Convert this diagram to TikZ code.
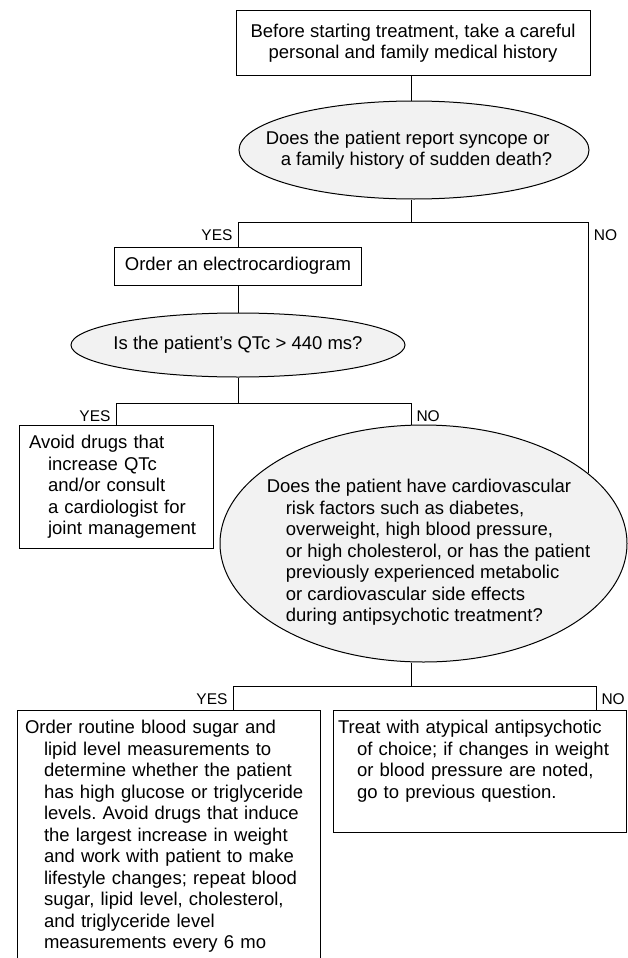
\documentclass[tikz,border=0pt]{standalone}
\usepackage{fontspec}
\setmainfont{Liberation Sans}
\usetikzlibrary{shapes.geometric}
\definecolor{qfill}{RGB}{242,242,242}
\newcommand{\ind}{\hspace*{19pt}}
\newcommand{\tail}[1]{\rule[-#1]{0pt}{#1}}
\frenchspacing
\begin{document}
\begin{tikzpicture}[x=1pt, y=1pt, line width=1pt,
  font=\fontsize{18.5}{21.5}\selectfont,
  action/.style={rectangle, draw, fill=white, inner sep=10pt},
  question/.style={ellipse, draw, fill=qfill, inner sep=0pt},
  qtext/.style={align=left, inner sep=0pt},
  answer/.style={font=\fontsize{15.5}{18}\selectfont, inner xsep=5pt, inner ysep=7pt}]
\useasboundingbox (0,0) rectangle (628,-958);

\node[action, minimum width=354, minimum height=64, align=center] (History) at (413,-43) {Before starting treatment, take a careful\\personal and family medical history};
\node[question, minimum width=350, minimum height=98] (Syncope) at (414,-150) {};
\node[qtext] (SyncopeText) at ([xshift=-5]Syncope) {Does the patient report syncope or\\\hspace*{15pt}a family history of sudden death?};
\coordinate (SplitA) at (411,-222);
\node[action, minimum width=240, minimum height=38] (ECG) at (238,-266) {Order an electrocardiogram};
\node[question, minimum width=334, minimum height=64] (QTc) at (238,-345) {};
\node[qtext] (QTcText) at (QTc) {Is the patient's QTc > 440 ms?};
\coordinate (SplitB) at (238,-403);
\node[action, minimum width=194, minimum height=121, text width=174, align=left] (AvoidDrugs) at (116,-487) {Avoid drugs that\\\ind increase QTc\\\ind and/or consult\\\ind a cardiologist for\\\ind joint management};
\node[question, minimum width=407, minimum height=237] (RiskFactors) at (423.5,-543.5) {};
\node[qtext] (RiskText) at ([xshift=5,yshift=-9]RiskFactors) {Does the patient have cardiovascular\\\ind risk factors such as diabetes,\\\ind overweight, high blood pressure,\\\ind or high cholesterol, or has the patient\\\ind previously experienced metabolic\\\ind or cardiovascular side effects\\\ind during antipsychotic treatment?};
\coordinate (SplitC) at (411,-686);
\node[action, anchor=north, minimum width=303, text width=287, inner xsep=8pt, align=left] (Monitor) at (168.5,-710) {Order routine blood sugar and\\\ind lipid level measurements to\\\ind determine whether the patient\\\ind has high glucose or triglyceride\\\ind levels. Avoid drugs that induce\\\ind the largest increase in weight\\\ind and work with patient to make\\\ind lifestyle changes; repeat blood\\\ind sugar, lipid level, cholesterol,\\\ind and triglyceride level\\\ind measurements every 6 mo\tail{14pt}};
\node[action, anchor=north, minimum width=293, text width=283, inner xsep=5pt, align=left] (Treat) at (479.5,-710) {Treat with atypical antipsychotic\\\ind of choice; if changes in weight\\\ind or blood pressure are noted,\\\ind go to previous question.\tail{24pt}};
\coordinate (YesDrop) at ([xshift=64.5]Monitor.north);
\coordinate (NoDrop) at ([xshift=116.5]Treat.north);

% connectors
\draw (History.south -| SplitA) -- (Syncope.north -| SplitA);
\draw (Syncope.south -| SplitA) -- (SplitA) -| (ECG.north);
\draw (SplitA) -| (RiskFactors.23);
\draw (ECG) -- (QTc);
\draw (QTc) -- (SplitB) -| (AvoidDrugs.north);
\draw (SplitB) -| (RiskFactors.north -| SplitA);
\draw (RiskFactors.south -| SplitC) -- (SplitC) -| (YesDrop);
\draw (SplitC) -| (NoDrop);

% answers
\node[answer, anchor=north east] (YesECG) at (ECG.north |- SplitA) {YES};
\node[answer, anchor=north west] (NoSyncope) at (RiskFactors.23 |- SplitA) {NO};
\node[answer, anchor=north east] (YesQTc) at (AvoidDrugs.north |- SplitB) {YES};
\node[answer, anchor=north west] (NoQTc) at (SplitA |- SplitB) {NO};
\node[answer, anchor=north east] (YesRisk) at (YesDrop |- SplitC) {YES};
\node[answer, anchor=north west] (NoRisk) at (NoDrop |- SplitC) {NO};
\end{tikzpicture}
\end{document}
